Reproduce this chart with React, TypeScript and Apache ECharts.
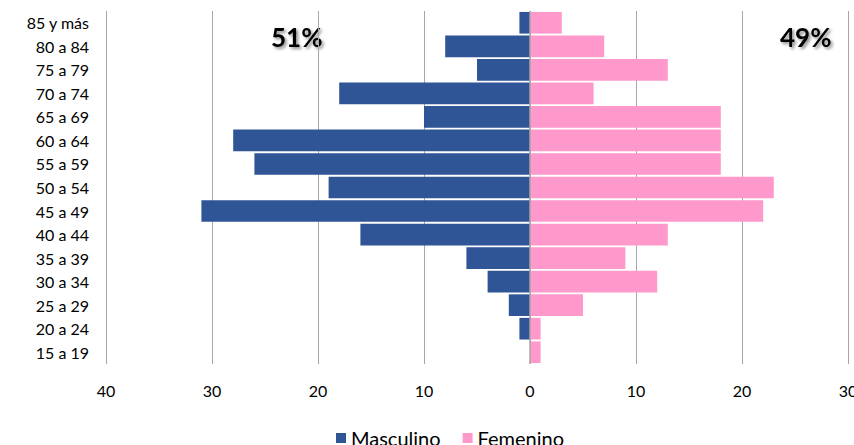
import React, { useEffect, useRef } from "react";
import * as echarts from "echarts";

const categories = [
  "85 y más", "80 a 84", "75 a 79", "70 a 74", "65 a 69", "60 a 64", "55 a 59",
  "50 a 54", "45 a 49", "40 a 44", "35 a 39", "30 a 34", "25 a 29", "20 a 24", "15 a 19",
];
const masculino = [1, 8, 5, 18, 10, 28, 26, 19, 31, 16, 6, 4, 2, 1, 0];
const femenino = [3, 7, 13, 6, 18, 18, 18, 23, 22, 13, 9, 12, 5, 1, 1];
const seriesNames = ["Masculino", "Femenino"];
const xMin = -40;
const xMax = 30;
const xInterval = 10;

const FONT = "Lato, 'Noto Sans', sans-serif";

export default function App() {
  const ref = useRef<HTMLDivElement>(null);
  useEffect(() => {
    document.documentElement.style.overflow = "hidden";
    document.body.style.margin = "0";
    document.body.style.overflow = "hidden";
    if (!ref.current) return;
    const chart = echarts.init(ref.current, undefined, { renderer: "svg", width: 854, height: 445 });
    const totM = masculino.reduce((a, b) => a + b, 0);
    const totF = femenino.reduce((a, b) => a + b, 0);
    const pctM = Math.round((totM / (totM + totF)) * 100) + "%";
    const pctF = Math.round((totF / (totM + totF)) * 100) + "%";
    const pctStyle = {
      font: `bold 26px ${FONT}`,
      fill: "#000",
      textShadowColor: "rgba(0,0,0,0.45)",
      textShadowBlur: 3,
      textShadowOffsetX: 2,
      textShadowOffsetY: 2,
    };
    chart.setOption({
      animation: false,
      textStyle: { fontFamily: FONT },
      grid: {
        left: 106,
        right: 6,
        top: 11,
        bottom: 81,
        containLabel: false,
        outerBoundsMode: "none",
      },
      legend: {
        data: seriesNames,
        top: 423,
        left: 331,
        itemWidth: 10,
        itemHeight: 10,
        itemGap: 22,
        icon: "rect",
        textStyle: { fontSize: 20, color: "#000", fontFamily: FONT },
      },
      xAxis: {
        type: "value",
        min: xMin,
        max: xMax,
        interval: xInterval,
        axisLine: { show: false },
        axisTick: { show: false },
        splitLine: { show: true, lineStyle: { color: "#a6a6a6", width: 1 } },
        axisLabel: {
          color: "#000",
          fontSize: 16,
          margin: 18,
          fontFamily: FONT,
          formatter: (v: number) => String(Math.abs(v)),
        },
      },
      yAxis: {
        type: "category",
        data: categories,
        inverse: true,
        axisLine: { show: false },
        axisTick: { show: false },
        splitLine: { show: false },
        axisLabel: { color: "#000", fontSize: 16, margin: 17, fontFamily: FONT },
      },
      series: [
        {
          name: seriesNames[0],
          type: "bar",
          stack: "total",
          barCategoryGap: "8%",
          data: masculino.map((v) => -v),
          itemStyle: { color: "#2F5597" },
        },
        {
          name: seriesNames[1],
          type: "bar",
          stack: "total",
          barCategoryGap: "8%",
          data: femenino,
          itemStyle: { color: "#FF99CC" },
          markLine: {
            silent: true,
            symbol: ["none", "none"],
            label: { show: false },
            lineStyle: { color: "#a6a6a6", width: 1.5, type: "solid" },
            data: [{ xAxis: 0 }],
          },
        },
      ],
      graphic: [
        { type: "text", left: 271, top: 24, style: { ...pctStyle, text: pctM } },
        { type: "text", left: 780, top: 24, style: { ...pctStyle, text: pctF } },
      ],
    });
    return () => chart.dispose();
  }, []);
  return <div ref={ref} style={{ width: 854, height: 445 }} />;
}
